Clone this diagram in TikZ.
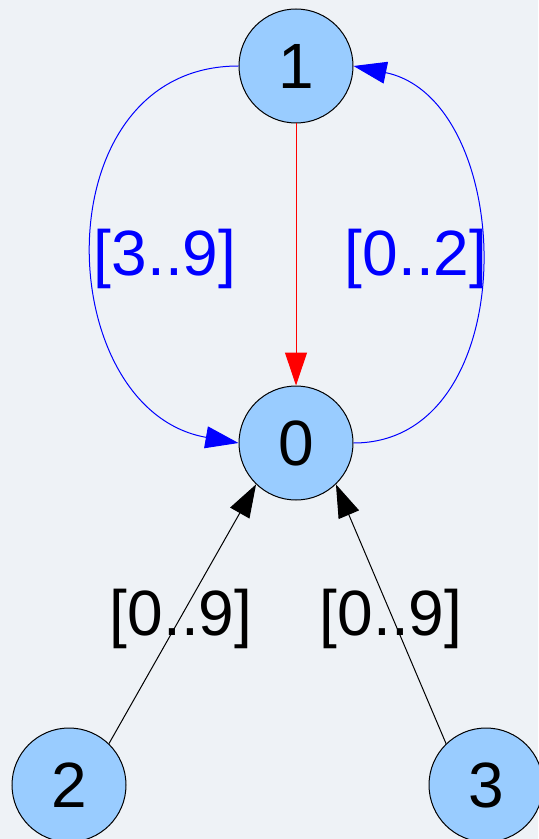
\documentclass[tikz,border=0pt]{standalone}
\usepackage{fontspec}
\setmainfont{Liberation Sans}
\usetikzlibrary{arrows.meta}
\definecolor{bgcol}{RGB}{238,242,246}
\definecolor{statecol}{RGB}{153,204,255}

\begin{document}
\begin{tikzpicture}[x=0.5pt,y=-0.5pt,
  state/.style={circle,draw=black,fill=statecol,line width=0.5pt,
    minimum size=57pt,inner sep=0pt,font=\fontsize{32}{36}\selectfont},
  lab/.style={font=\fontsize{32}{36}\selectfont},
  tip/.style={line width=0.5pt,-{Triangle[length=16.5pt,width=11pt]}}]

\fill[bgcol] (0,0) rectangle (538,839);
\useasboundingbox (0,0) rectangle (538,839);

\node[state] (n1) at (296,66) {1};
\node[state] (n0) at (296,443) {0};
\node[state] (n2) at (69,785) {2};
\node[state] (n3) at (486,785) {3};

\draw[tip,red] (n1.south) -- (n0.north);
\draw[tip,blue] (n1.west) .. controls (40,66) and (50,410) .. (n0.west);
\draw[tip,blue] (n0.east) .. controls (526,443) and (518,100) .. (n1.east);
\draw[tip,black] (n2.46) -- (n0.226);
\draw[tip,black] (n3.134) -- (n0.314);

\node[lab,text=blue] (l10) at (165,259) {[3..9]};
\node[lab,text=blue] (l01) at (416,259) {[0..2]};
\node[lab] (l20) at (181,619) {[0..9]};
\node[lab] (l30) at (391,619) {[0..9]};

\end{tikzpicture}
\end{document}
